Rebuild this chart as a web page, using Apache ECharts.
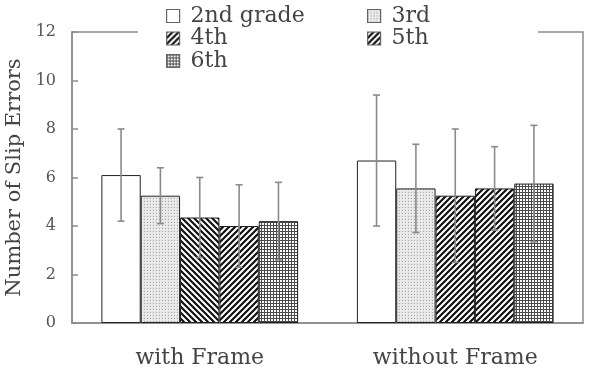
<!DOCTYPE html>
<html>
<head>
<meta charset="utf-8">
<script src="https://cdn.jsdelivr.net/npm/echarts@6/dist/echarts.min.js"></script>
<style>
  html, body { margin: 0; padding: 0; background: #fff; }
  #main { width: 589px; height: 374px; }
</style>
</head>
<body>
<div id="main"></div>
<script>
// data
var categories = ['with Frame', 'without Frame'];
var grades = ['2nd grade', '3rd', '4th', '5th', '6th'];
var means = [
  [6.1, 6.7],
  [5.25, 5.55],
  [4.35, 5.25],
  [4.0, 5.55],
  [4.2, 5.75]
];
var sds = [
  [1.9, 2.7],
  [1.15, 1.82],
  [1.65, 2.75],
  [1.7, 1.72],
  [1.6, 2.4]
];
var yTicks = [0, 2, 4, 6, 8, 10, 12];

// hatch patterns
function pattern(kind) {
  var c = document.createElement('canvas');
  var ctx = c.getContext('2d');
  if (kind === 'white') {
    c.width = c.height = 4;
    ctx.fillStyle = '#fff'; ctx.fillRect(0, 0, 4, 4);
  } else if (kind === 'dots') {
    c.width = c.height = 3;
    ctx.fillStyle = '#e6e6e6'; ctx.fillRect(0, 0, 3, 3);
    ctx.fillStyle = '#a8a8a8';
    ctx.fillRect(0, 0, 1, 1);
    ctx.fillStyle = '#f6f6f6';
    ctx.fillRect(1, 1, 1, 1);
  } else if (kind === 'grid') {
    c.width = c.height = 3;
    ctx.fillStyle = '#fff'; ctx.fillRect(0, 0, 3, 3);
    ctx.fillStyle = '#4a4a4a';
    ctx.fillRect(0, 0, 3, 1); ctx.fillRect(0, 0, 1, 3);
  } else {
    var s = 6;
    c.width = c.height = s;
    ctx.fillStyle = '#fff'; ctx.fillRect(0, 0, s, s);
    ctx.strokeStyle = '#111'; ctx.lineWidth = 2.2;
    ctx.beginPath();
    if (kind === 'slash') {
      ctx.moveTo(-1, s + 1); ctx.lineTo(s + 1, -1);
      ctx.moveTo(-1, 1); ctx.lineTo(1, -1);
      ctx.moveTo(s - 1, s + 1); ctx.lineTo(s + 1, s - 1);
    } else {
      ctx.moveTo(-1, -1); ctx.lineTo(s + 1, s + 1);
      ctx.moveTo(s - 1, -1); ctx.lineTo(s + 1, 1);
      ctx.moveTo(-1, s - 1); ctx.lineTo(1, s + 1);
    }
    ctx.stroke();
  }
  return { image: c, repeat: 'repeat' };
}

var fills = [pattern('white'), pattern('dots'), pattern('slash'), pattern('slash'), pattern('grid')];
var backFill = pattern('back');

var BAR_SHARE = 0.77;
var font = 'DejaVu Serif';

var barSeries = grades.map(function (g, i) {
  return {
    name: g,
    type: 'bar',
    barGap: '0%',
    barCategoryGap: ((1 - BAR_SHARE) * 100) + '%',
    data: means[i].map(function (v, j) {
      var d = { value: v };
      // the 4th-grade bar in the first group is hatched the other way
      if (i === 2 && j === 0) d.itemStyle = { color: backFill };
      return d;
    }),
    itemStyle: { color: fills[i], borderColor: '#222', borderWidth: 1 },
    z: 2
  };
});

var errData = [];
grades.forEach(function (g, i) {
  categories.forEach(function (c, j) {
    errData.push([j, i, means[i][j] - sds[i][j], means[i][j] + sds[i][j]]);
  });
});

var errSeries = {
  type: 'custom',
  data: errData,
  z: 5,
  renderItem: function (params, api) {
    var cat = api.value(0), gi = api.value(1);
    var lo = api.coord([cat, api.value(2)]);
    var hi = api.coord([cat, api.value(3)]);
    var bw = api.size([1, 0])[0] * BAR_SHARE / grades.length;
    var x = lo[0] + (gi - (grades.length - 1) / 2) * bw;
    var cap = 3.5;
    var st = { stroke: '#8a8a8a', lineWidth: 1.6 };
    return {
      type: 'group',
      children: [
        { type: 'line', shape: { x1: x, y1: lo[1], x2: x, y2: hi[1] }, style: st },
        { type: 'line', shape: { x1: x - cap, y1: lo[1], x2: x + cap, y2: lo[1] }, style: st },
        { type: 'line', shape: { x1: x - cap, y1: hi[1], x2: x + cap, y2: hi[1] }, style: st }
      ]
    };
  }
};

var legendBase = {
  orient: 'vertical',
  top: 5,
  padding: 0,
  itemWidth: 13,
  itemHeight: 13,
  itemGap: 0.5,
  icon: 'rect',
  z: 20,
  itemStyle: { borderColor: '#666', borderWidth: 1.2 },
  textStyle: { fontFamily: font, fontSize: 22, color: '#444', padding: [0, 0, 0, 6] }
};

var myChart = echarts.init(document.getElementById('main'));
var option = {
  animation: false,
  backgroundColor: '#fff',
  grid: {
    left: 72, right: 6, top: 32, bottom: 51,
    outerBoundsMode: 'none',
    show: true, borderColor: '#8c8c8c', borderWidth: 1.5
  },
  legend: [
    Object.assign({}, legendBase, { left: 166, data: [grades[0], grades[2], grades[4]] }),
    Object.assign({}, legendBase, { left: 367, data: [grades[1], grades[3]] })
  ],
  graphic: [{
    type: 'rect', z: 10,
    shape: { x: 138, y: 28, width: 400, height: 8 },
    style: { fill: '#fff' }
  }],
  xAxis: {
    type: 'category',
    data: categories,
    axisLine: { lineStyle: { color: '#8c8c8c', width: 1.5 } },
    axisTick: { inside: true, length: 6, lineStyle: { color: '#8c8c8c', width: 1.5 } },
    axisLabel: { fontFamily: font, fontSize: 22, color: '#444', margin: 24 }
  },
  yAxis: {
    type: 'value',
    min: yTicks[0],
    max: yTicks[yTicks.length - 1],
    interval: yTicks[1] - yTicks[0],
    name: 'Number of Slip Errors',
    nameLocation: 'middle',
    nameGap: 45,
    nameTextStyle: { fontFamily: font, fontSize: 21, color: '#444' },
    splitLine: { show: false },
    axisLine: { show: true, lineStyle: { color: '#8c8c8c', width: 1.5 } },
    axisTick: { show: true, inside: true, length: 6, lineStyle: { color: '#8c8c8c', width: 1.5 } },
    axisLabel: { fontFamily: font, fontSize: 16, color: '#555', margin: 16 }
  },
  series: barSeries.concat([errSeries])
};
myChart.setOption(option);
</script>
</body>
</html>
